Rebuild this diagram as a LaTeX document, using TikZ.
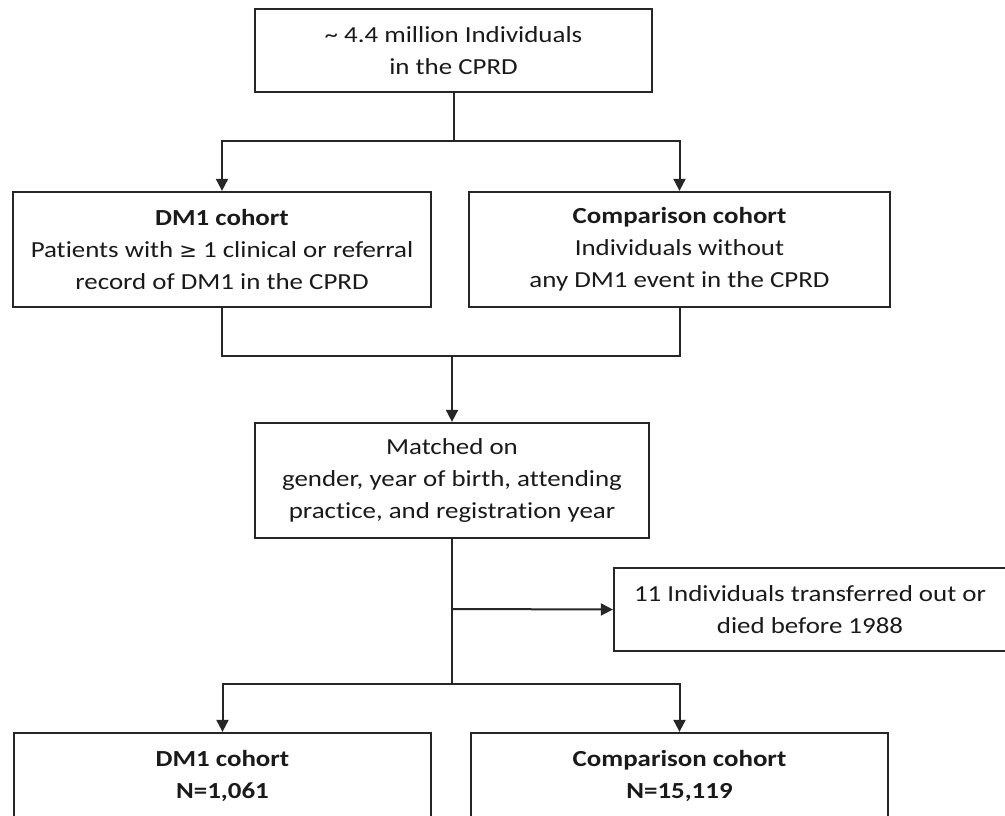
\documentclass[tikz,border=0pt]{standalone}
\usepackage{fontspec}
\setmainfont{Carlito}[FakeStretch=1.17, RawFeature={-liga;-calt;-clig;-dlig}]
\newfontfamily\symfont{DejaVu Sans}[FakeStretch=1.05]
\usetikzlibrary{arrows.meta}
\definecolor{linec}{HTML}{262626}
\definecolor{textc}{HTML}{1A1A1A}
\tikzset{
  flowbox/.style={draw=linec, line width=2.3pt, rectangle, align=center,
    inner sep=0pt, text=textc, font=\fontsize{23}{32}\selectfont},
  conn/.style={draw=linec, line width=2pt},
  arr/.style={conn, -{Triangle[length=12pt,width=12pt]}}
}
\begin{document}
\begin{tikzpicture}[x=1pt,y=-1pt]
\clip (0,0) rectangle (1005,816);
\fill[white] (0,0) rectangle (1005,816);
\node[flowbox, minimum width=397pt, minimum height=83pt] (top) at (453.5,50.5)
  {\textasciitilde{} 4.4 million Individuals\\in the CPRD};
\node[flowbox, minimum width=418pt, minimum height=115pt] (dm1) at (222,249.5)
  {\textbf{DM1 cohort}\\Patients with {\symfont\fontsize{20}{32}\selectfont ≥} 1 clinical or referral\\record of DM1 in the CPRD};
\node[flowbox, minimum width=421pt, minimum height=115pt] (comp) at (679.5,249.5)
  {\textbf{Comparison cohort}\\Individuals without\\any DM1 event in the CPRD};
\node[flowbox, minimum width=394pt, minimum height=115pt] (match) at (452,480.5)
  {Matched on\\gender, year of birth, attending\\practice, and registration year};
\node[flowbox, minimum width=392pt, minimum height=83pt] (side) at (810,609.5)
  {11 Individuals transferred out or\\died before 1988};
\node[flowbox, minimum width=417pt, minimum height=85pt] (dm1b) at (222.5,775.5)
  {\textbf{DM1 cohort}\\\textbf{N=1,061}};
\node[flowbox, minimum width=417pt, minimum height=85pt] (compb) at (679.5,775.5)
  {\textbf{Comparison cohort}\\\textbf{N=15,119}};
\coordinate (s1) at (453,141);
\coordinate (m1) at (452,356);
\coordinate (x1) at (452,609);
\coordinate (s2) at (452,684);
\draw[conn] (top.south) -- (top.south |- s1);
\draw[arr] (top.south |- s1) -| (dm1.north);
\draw[arr] (top.south |- s1) -| (comp.north);
\draw[conn] (dm1.south) |- (m1) -| (comp.south);
\draw[arr] (m1) -- (m1 -| match.north) -- (match.north);
\draw[conn] (match.south) -- (s2);
\draw[arr] (x1) -- (side.west);
\draw[arr] (s2) -| (dm1b.north);
\draw[arr] (s2) -| (compb.north);
\end{tikzpicture}
\end{document}
